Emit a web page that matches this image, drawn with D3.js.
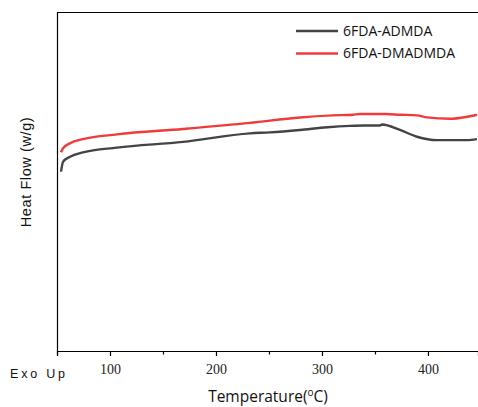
<!DOCTYPE html>
<html>
<head>
<meta charset="utf-8">
<script src="https://cdn.jsdelivr.net/npm/d3@7"></script>
<style>
  body { margin: 0; background: #fff; }
  svg { display: block; }
</style>
</head>
<body>
<svg id="chart" width="478" height="407"></svg>
<script>
// temperatures (°C) and heat flow (arbitrary units)
const tempADMDA = [53.8, 55.7, 62.3, 74.5, 106.6, 168.9, 232, 251, 279.2, 305, 326.4, 340, 354.7, 356.6, 373.6, 389.6, 408.5, 436.8, 446.2];
const flowADMDA = [5.29, 5.58, 5.73, 5.86, 6.00, 6.17, 6.42, 6.45, 6.52, 6.60, 6.64, 6.65, 6.65, 6.68, 6.52, 6.32, 6.22, 6.22, 6.25];
const tempDMADMDA = [53.8, 55.7, 62.3, 74.5, 106.6, 168.9, 232, 279.2, 310, 329.2, 335.8, 360, 373.6, 389.6, 399, 420.8, 436.8, 446.2];
const flowDMADMDA = [5.86, 5.98, 6.13, 6.25, 6.39, 6.55, 6.73, 6.89, 6.95, 6.97, 6.99, 6.99, 6.97, 6.95, 6.89, 6.85, 6.91, 6.97];
const seriesNames = ["6FDA-ADMDA", "6FDA-DMADMDA"];
const seriesColors = ["#444444", "#ef3b3b"];
const xTicks = [100, 200, 300, 400];
const xMinor = [50, 150, 250, 350];

const svg = d3.select("#chart");
const m = { left: 57, top: 12, right: 0, bottom: 56 };
const W = +svg.attr("width"), H = +svg.attr("height");

const x = d3.scaleLinear().domain([50, 447.2]).range([m.left, W - m.right]);
const y = d3.scaleLinear().domain([0, 10]).range([H - m.bottom, m.top]);

// frame: top and left
svg.append("line")
  .attr("x1", m.left).attr("x2", W).attr("y1", m.top + 0.5).attr("y2", m.top + 0.5)
  .attr("stroke", "#000").attr("stroke-width", 1.2);
svg.append("line")
  .attr("x1", m.left + 0.5).attr("x2", m.left + 0.5).attr("y1", m.top).attr("y2", H - m.bottom)
  .attr("stroke", "#000").attr("stroke-width", 1.2);

// x axis
const gx = svg.append("g").attr("transform", `translate(0,${H - m.bottom})`);
gx.call(d3.axisBottom(x).tickValues(xTicks).tickSize(5).tickPadding(8).tickFormat(d3.format("d")));
gx.select(".domain").attr("stroke-width", 1.2);
gx.selectAll(".tick line").attr("stroke-width", 1.2);
gx.selectAll("text").attr("font-family", "'Liberation Serif', 'DejaVu Serif', serif").attr("font-size", 14).attr("fill", "#222");
gx.selectAll(".minor").data(xMinor).join("line")
  .attr("class", "minor")
  .attr("x1", d => x(d) + 0.5).attr("x2", d => x(d) + 0.5)
  .attr("y1", 0).attr("y2", 3.5)
  .attr("stroke", "#000").attr("stroke-width", 1.2);

// lines
const line = d3.line().x(d => x(d[0])).y(d => y(d[1])).curve(d3.curveMonotoneX);
const data = [
  d3.zip(tempADMDA, flowADMDA),
  d3.zip(tempDMADMDA, flowDMADMDA)
];
svg.selectAll(".curve").data(data).join("path")
  .attr("class", "curve")
  .attr("d", line)
  .attr("fill", "none")
  .attr("stroke", (d, i) => seriesColors[i])
  .attr("stroke-width", 2.4);

// legend
const leg = svg.append("g").attr("transform", "translate(296,31)");
const li = leg.selectAll("g").data(seriesNames).join("g")
  .attr("transform", (d, i) => `translate(0,${i * 22.5})`);
li.append("line").attr("x1", 0).attr("x2", 42).attr("y1", 0).attr("y2", 0)
  .attr("stroke", (d, i) => seriesColors[i]).attr("stroke-width", 2.4);
li.append("text").attr("x", 47).attr("y", 0).attr("dy", "0.35em")
  .attr("font-family", "'Open Sans', 'Liberation Sans', sans-serif").attr("font-size", 14)
  .attr("fill", "#111").text(d => d);

// axis titles
const xt = svg.append("text").attr("x", 268).attr("y", 402).attr("text-anchor", "middle")
  .attr("font-family", "'Open Sans', 'Liberation Sans', sans-serif").attr("font-size", 15.5).attr("fill", "#111");
xt.append("tspan").text("Temperature(");
xt.append("tspan").attr("font-size", 10).attr("dy", -6).text("o");
xt.append("tspan").attr("dy", 6).text("C)");

svg.append("text").attr("transform", "translate(31,172) rotate(-90)").attr("text-anchor", "middle")
  .attr("font-family", "'Liberation Sans', 'Open Sans', sans-serif").attr("font-size", 14.5)
  .attr("letter-spacing", 0.6).attr("fill", "#111")
  .text("Heat Flow (w/g)");

svg.append("text").attr("x", 10).attr("y", 378)
  .attr("font-family", "'Liberation Sans', 'Open Sans', sans-serif").attr("font-size", 12.5)
  .attr("letter-spacing", 2.8).attr("fill", "#111").text("Exo Up");
</script>
</body>
</html>
